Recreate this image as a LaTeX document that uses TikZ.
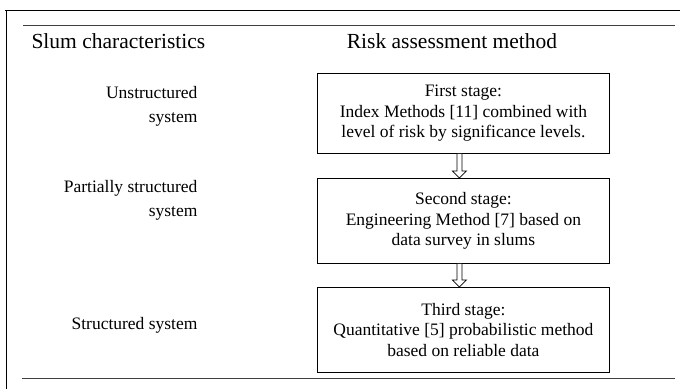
\documentclass[tikz,border=0pt]{standalone}
\usepackage{fontspec}
\setmainfont{Liberation Serif}
\usetikzlibrary{calc}
\begin{document}
\begin{tikzpicture}[x=1pt,y=-1pt,
  stagebox/.style={draw, line width=0.8pt, minimum width=292pt, align=center,
    font=\fontsize{17.5}{20.5}\selectfont, anchor=north west, inner sep=0pt},
  headtext/.style={font=\fontsize{21.5}{24}\selectfont},
  sidetext/.style={font=\fontsize{17.5}{24}\selectfont, align=right, anchor=east},
  rule/.style={line width=1pt, draw=black!75},
  hollow/.style={draw, line width=0.7pt, fill=white}
]
\useasboundingbox (0,0) rectangle (680,389);
% frame lines
\draw[line width=1pt] (5,10) coordinate (tl) -- (680,10) coordinate (tr);
\draw[line width=1pt] (6,10) coordinate (lt) -- (6,389) coordinate (lb);
\draw[rule] (23,25) coordinate (ra) -- (675,25) coordinate (rb);
\draw[rule] (22,378) coordinate (rc) -- (675,378) coordinate (rd);
% headers
\node[headtext, anchor=west] (h1) at (28,41) {Slum characteristics};
\node[headtext] (h2) at (452,41) {Risk assessment method};
% side labels
\node[sidetext] (s1) at (201,106) {Unstructured\\system};
\node[sidetext] (s2) at (201,200) {Partially structured\\system};
\node[sidetext] (s3) at (201,325) {Structured system};
% boxes
\node[stagebox, minimum height=80pt] (b1) at (317,73) {First stage:\\Index Methods [11] combined with\\level of risk by significance levels.};
\node[stagebox, minimum height=85pt] (b2) at (317,178) {Second stage:\\Engineering Method [7] based on\\data survey in slums};
\node[stagebox, minimum height=85pt] (b3) at (317,287) {Third stage:\\Quantitative [5] probabilistic method\\based on reliable data};
% hollow arrows
\draw[hollow] ($(b1.south)+(-6.5,0)$) -- ($(b2.north)+(-6.5,-7)$) -- ($(b2.north)+(-11,-7)$)
  -- ($(b2.north)+(-4,0)$) -- ($(b2.north)+(3,-7)$) -- ($(b2.north)+(-1.5,-7)$) -- ($(b1.south)+(-1.5,0)$);
\draw[hollow] ($(b2.south)+(-6.5,0)$) -- ($(b3.north)+(-6.5,-7)$) -- ($(b3.north)+(-11,-7)$)
  -- ($(b3.north)+(-4,0)$) -- ($(b3.north)+(3,-7)$) -- ($(b3.north)+(-1.5,-7)$) -- ($(b2.south)+(-1.5,0)$);
\end{tikzpicture}
\end{document}
